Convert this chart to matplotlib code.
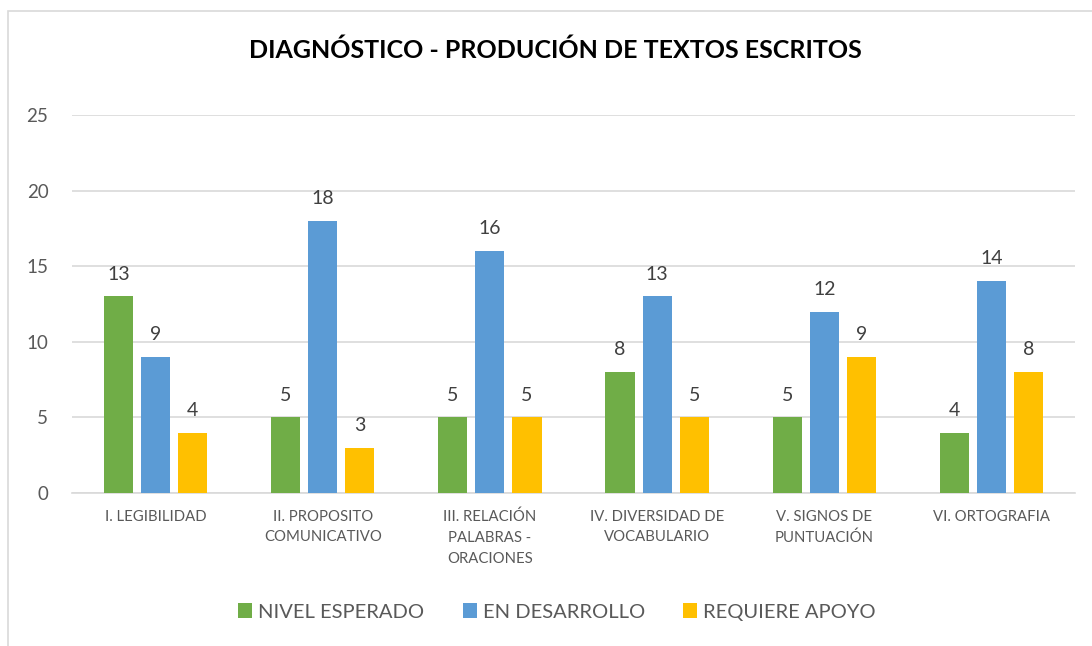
import matplotlib
matplotlib.use("Agg")
import matplotlib.pyplot as plt
import numpy as np
from matplotlib.patches import Rectangle

categories = ["I. LEGIBILIDAD", "II. PROPOSITO\nCOMUNICATIVO", "III. RELACIÓN\nPALABRAS -\nORACIONES",
              "IV. DIVERSIDAD DE\nVOCABULARIO", "V. SIGNOS DE\nPUNTUACIÓN", "VI. ORTOGRAFIA"]
nivel_esperado = [13, 5, 5, 8, 5, 4]
en_desarrollo = [9, 18, 16, 13, 12, 14]
requiere_apoyo = [4, 3, 5, 5, 9, 8]
series_names = ["NIVEL ESPERADO", "EN DESARROLLO", "REQUIERE APOYO"]
colors = ["#70AD47", "#5B9BD5", "#FFC000"]
yticks = [0, 5, 10, 15, 20, 25]

plt.rcParams['font.family'] = ['Lato', 'DejaVu Sans']
TXT = "#595959"

fig = plt.figure(figsize=(10.92, 6.46), dpi=100)
W, H = 1092, 646
# chart border (clipped at right/bottom)
fig.patches.append(Rectangle((8 / W, -0.1), 1.2, 1 - 11 / H + 0.1, transform=fig.transFigure,
                             fill=False, edgecolor="#D9D9D9", linewidth=1.2))

ax = fig.add_axes([72 / W, 153 / H, (1075 - 72) / W, (531 - 153) / H])
x = np.arange(len(categories))
bw = 0.174
off = 0.222
for i, (vals, name, c) in enumerate(zip([nivel_esperado, en_desarrollo, requiere_apoyo], series_names, colors)):
    bars = ax.bar(x + (i - 1) * off, vals, bw, color=c, label=name, zorder=3)
    for b, v in zip(bars, vals):
        ax.annotate(str(v), (b.get_x() + b.get_width() / 2, v), xytext=(0, 10), textcoords="offset points",
                    ha="center", va="bottom", fontsize=14, color="#404040")

ax.set_xlim(-0.5, len(categories) - 0.5)
ax.set_ylim(0, 25)
ax.set_yticks(yticks)
ax.set_yticklabels([str(t) for t in yticks])
ax.set_xticks(x)
ax.set_xticklabels(categories, fontsize=10.7, color=TXT, linespacing=1.62)
ax.tick_params(axis="y", length=0, pad=17, labelsize=13.5, labelcolor=TXT)
ax.tick_params(axis="x", length=0, pad=12)
ax.grid(axis="y", color="#D9D9D9", linewidth=1.2, zorder=0)
for s in ["top", "right", "left"]:
    ax.spines[s].set_visible(False)
ax.spines["bottom"].set_color("#D9D9D9")
ax.spines["bottom"].set_linewidth(1.2)

fig.text(555 / W, 1 - 50 / H, "DIAGNÓSTICO - PRODUCIÓN DE TEXTOS ESCRITOS", ha="center", va="center",
         fontsize=18, fontweight="bold", color="black")

leg = fig.legend(loc="center", bbox_to_anchor=(557 / W, 1 - 612 / H), ncol=3, frameon=False,
                 fontsize=14.5, handlelength=0.7, handleheight=0.7, handletextpad=0.3, columnspacing=1.9)
for t in leg.get_texts():
    t.set_color(TXT)

fig.savefig("out.png", dpi=100)
